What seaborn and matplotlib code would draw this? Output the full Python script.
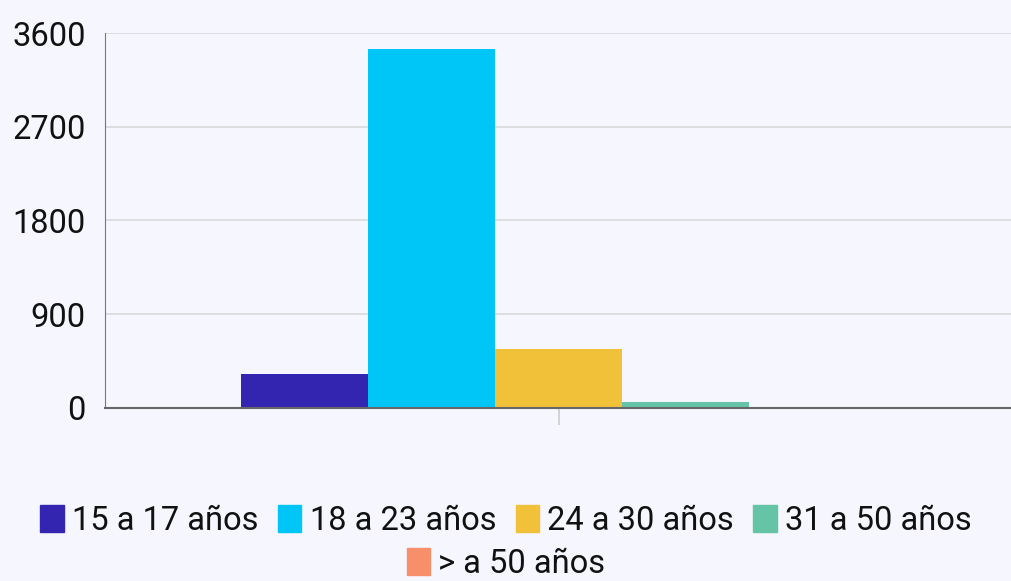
import pandas as pd
import matplotlib.pyplot as plt
import seaborn as sns

# Data
grupos = ["15 a 17 años", "18 a 23 años", "24 a 30 años", "31 a 50 años", "> a 50 años"]
valores = [326, 3446, 566, 58, 10]
colores = ["#3425B0", "#00C5F7", "#F2C13A", "#66C4A6", "#F78F6A"]
yticks = [0, 900, 1800, 2700, 3600]

df = pd.DataFrame({"cat": [""] * len(grupos), "grupo": grupos, "valor": valores})

sns.set_style("white")
plt.rcParams["font.family"] = ["Roboto", "DejaVu Sans"]

bg = "#F6F6FE"
fig = plt.figure(figsize=(10.12, 5.81), dpi=100, facecolor=bg)
ax = fig.add_axes([0.1038, 0.298, 0.8962, 0.645], facecolor=bg)

sns.barplot(data=df, x="cat", y="valor", hue="grupo", hue_order=grupos,
            palette=colores, width=0.7, saturation=1, linewidth=0, ax=ax, legend=False)

ax.set_ylim(0, 3600)
ax.set_xlim(-0.5, 0.5)
ax.set_yticks(yticks)
ax.set_yticklabels([str(v) for v in yticks], fontsize=23.5, color="#111111")
ax.tick_params(axis="y", length=0, pad=14)
ax.tick_params(axis="x", length=12, color="#CCCCCC", width=1.2, direction="out", bottom=True)
ax.set_xticklabels([""])
ax.set_xlabel("")
ax.set_ylabel("")
ax.grid(axis="y", color="#DADADA", linewidth=1.2)
ax.set_axisbelow(True)
for s in ["top", "right"]:
    ax.spines[s].set_visible(False)
ax.spines["left"].set_color("#777777")
ax.spines["bottom"].set_color("#666666")
ax.spines["bottom"].set_linewidth(1.5)

handles = [plt.Rectangle((0, 0), 1, 1, color=c) for c in colores]
opts = dict(frameon=False, fontsize=23.5, handlelength=0.72, handleheight=0.9,
            handletextpad=0.25, labelcolor="#111111")
fig.legend(handles[:4], grupos[:4], loc="center", bbox_to_anchor=(0.5, 0.103),
           ncol=4, columnspacing=0.6, **opts)
fig.legend(handles[4:], grupos[4:], loc="center", bbox_to_anchor=(0.5, 0.03),
           ncol=1, **opts)

fig.savefig("out.png", dpi=100, facecolor=bg)
